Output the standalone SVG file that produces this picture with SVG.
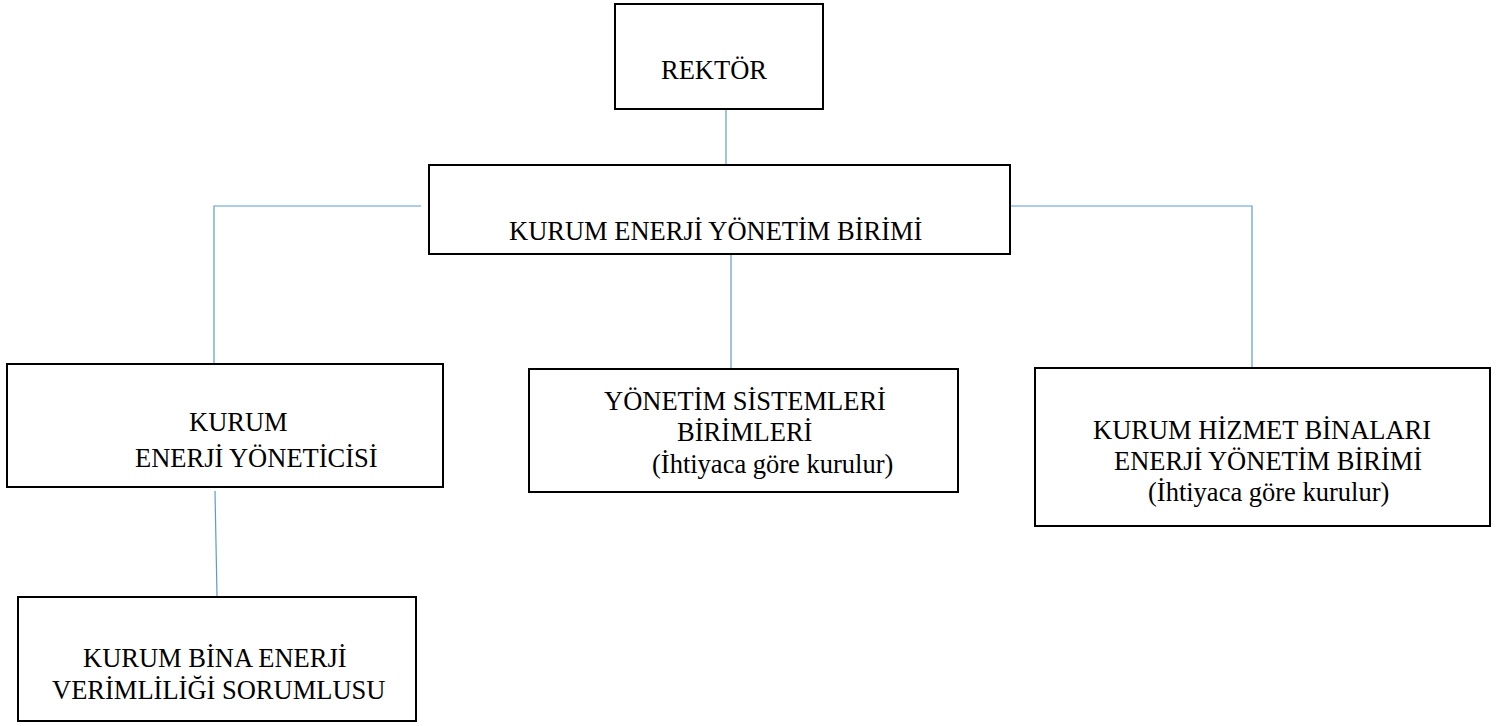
<svg xmlns="http://www.w3.org/2000/svg" width="1509" height="726" viewBox="0 0 1509 726">
<style>
.box{fill:#fff;stroke:#000;stroke-width:2}
.lbl{font-family:"Liberation Serif","Times New Roman",serif;font-size:26.5px;fill:#000}
.con{fill:none;stroke:#5B9BD5;stroke-width:1.2}
</style>
<rect x="0" y="0" width="1509" height="726" fill="#fff"/>
<g id="connectors">
<line class="con" x1="726" y1="109" x2="726" y2="165"/>
<polyline class="con" points="421,206 214,206 214,365"/>
<polyline class="con" points="1010,206 1252,206 1252,367"/>
<line class="con" x1="731" y1="255" x2="731" y2="369"/>
<line class="con" x1="215" y1="491" x2="217" y2="596"/>
</g>
<g id="rektor">
<rect class="box" x="615" y="4" width="208" height="105"/>
<text class="lbl" x="661" y="79">REKTÖR</text>
</g>
<g id="kurum-enerji-yonetim-birimi">
<rect class="box" x="429" y="165" width="581" height="89"/>
<text class="lbl" x="509" y="240">KURUM ENERJİ YÖNETİM BİRİMİ</text>
</g>
<g id="kurum-enerji-yoneticisi">
<rect class="box" x="7" y="364" width="436" height="123"/>
<text class="lbl" x="189" y="431">KURUM</text>
<text class="lbl" x="135" y="467">ENERJİ YÖNETİCİSİ</text>
</g>
<g id="yonetim-sistemleri-birimleri">
<rect class="box" x="529" y="369" width="429" height="123"/>
<text class="lbl" x="604" y="410">YÖNETİM SİSTEMLERİ</text>
<text class="lbl" x="677" y="441">BİRİMLERİ</text>
<text class="lbl" x="652" y="473">(İhtiyaca göre kurulur)</text>
</g>
<g id="kurum-hizmet-binalari">
<rect class="box" x="1035" y="368" width="455" height="158"/>
<text class="lbl" x="1093" y="439">KURUM HİZMET BİNALARI</text>
<text class="lbl" x="1114" y="470">ENERJİ YÖNETİM BİRİMİ</text>
<text class="lbl" x="1148" y="501">(İhtiyaca göre kurulur)</text>
</g>
<g id="kurum-bina-enerji-verimliligi-sorumlusu">
<rect class="box" x="18" y="597" width="398" height="124"/>
<text class="lbl" x="83" y="667">KURUM BİNA ENERJİ</text>
<text class="lbl" x="52" y="699">VERİMLİLİĞİ SORUMLUSU</text>
</g>
</svg>
